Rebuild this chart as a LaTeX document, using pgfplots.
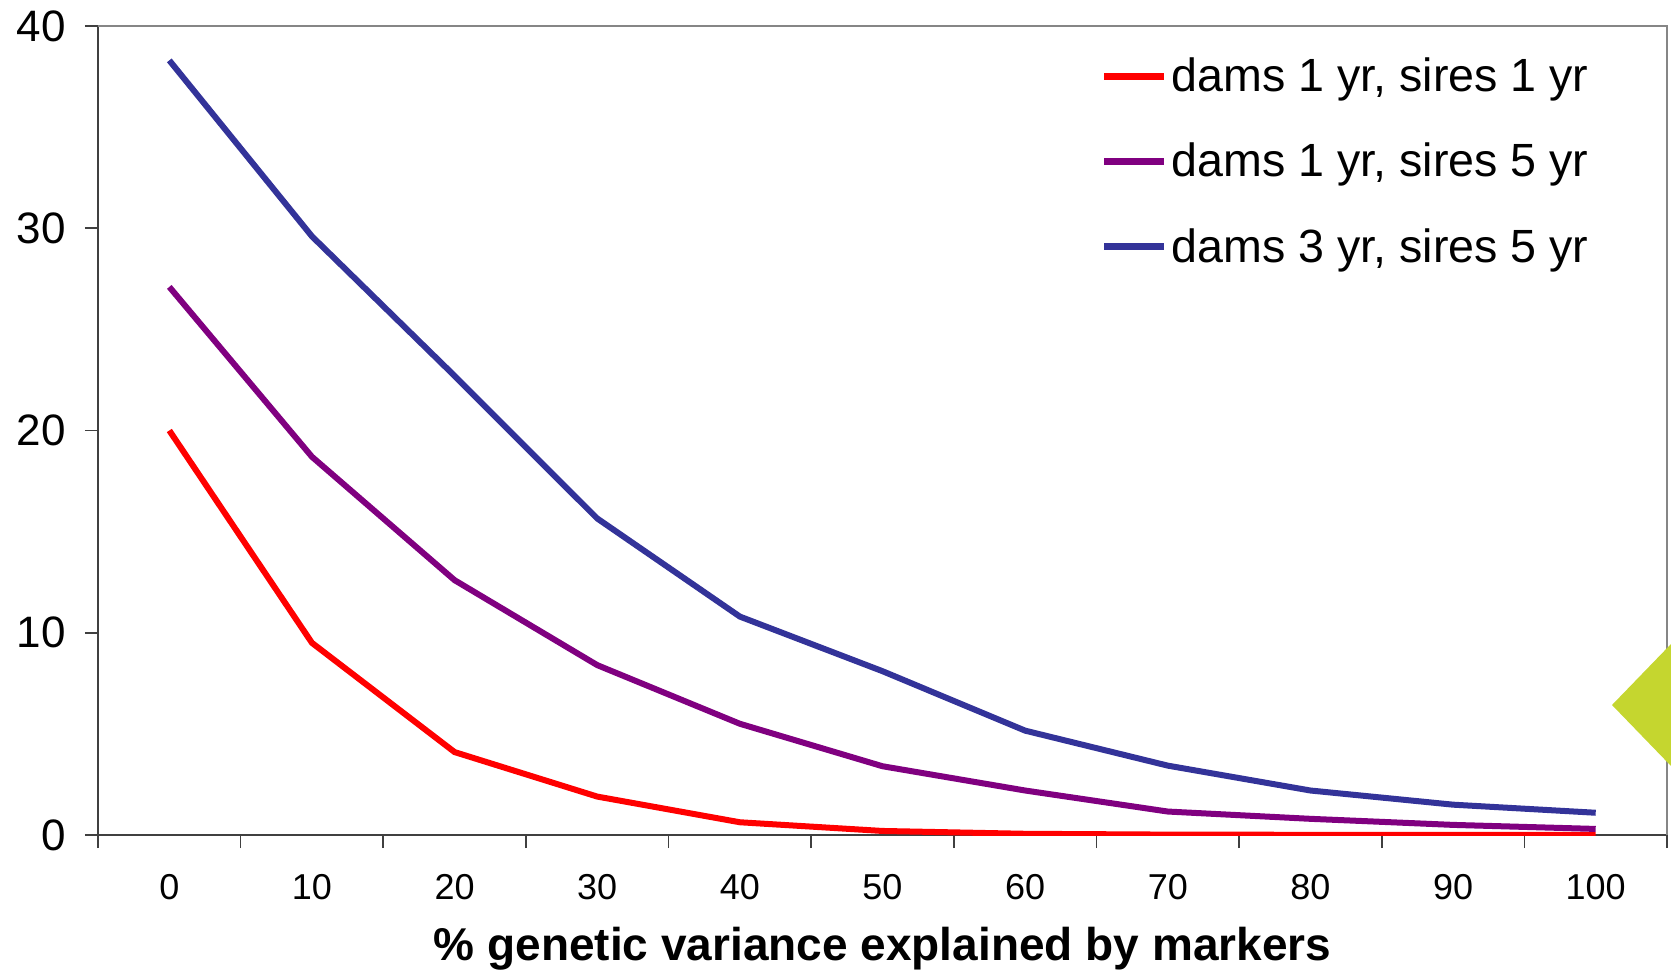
\documentclass[border=0pt]{standalone}
\usepackage{fontspec}
\setmainfont{Liberation Sans}
\usepackage{pgfplots}
\pgfplotsset{compat=1.18}
\definecolor{cred}{HTML}{FF0000}
\definecolor{cpurple}{HTML}{800080}
\definecolor{cblue}{HTML}{333399}
\definecolor{cgreen}{HTML}{C5D62F}
\definecolor{axdark}{HTML}{404040}
\definecolor{axgray}{HTML}{868686}
\begin{document}
\begin{tikzpicture}
\begin{axis}[
  at={(0,0)}, anchor=south west,
  scale only axis,
  width=784.5pt, height=404.5pt,
  xmin=-5, xmax=105, ymin=0, ymax=40,
  axis x line*=bottom, axis y line*=left,
  axis line style={axdark, line width=0.8pt},
  xtick={-5,5,...,105},
  x tick label as interval,
  xticklabels={0,10,20,30,40,50,60,70,80,90,100},
  ytick={0,10,20,30,40},
  tick align=outside,
  major tick length=6.5pt,
  tick style={axdark, line width=0.8pt},
  /pgf/number format/assume math mode=true,
  xticklabel style={font=\fontsize{18}{22}\selectfont, yshift=-9.6pt},
  yticklabel style={font=\fontsize{22}{26}\selectfont, xshift=-6pt},
  xlabel={\textbf{\% genetic variance explained by markers}},
  xlabel style={font=\fontsize{23}{27}\selectfont, yshift=-7pt},
  legend style={at={(0.639,0.966)}, anchor=north west, draw=none, fill=none,
    font=\fontsize{23.3}{27}\selectfont, row sep=20.2pt, inner sep=0pt},
  legend cell align=left,
  legend image code/.code={\draw[#1, line width=3.3pt] (0pt,0pt) -- (30pt,0pt);},
]
\addplot[cred, line width=3pt] coordinates {
 (0,20.0) (10,9.5) (20,4.1) (30,1.9) (40,0.63) (50,0.2) (60,0.06) (70,0.02) (80,0.01) (90,0.01) (100,0.0)};
\addlegendentry{dams 1 yr, sires 1 yr}
\addplot[cpurple, line width=3pt] coordinates {
 (0,27.1) (10,18.7) (20,12.6) (30,8.4) (40,5.5) (50,3.4) (60,2.2) (70,1.16) (80,0.8) (90,0.5) (100,0.3)};
\addlegendentry{dams 1 yr, sires 5 yr}
\addplot[cblue, line width=3pt] coordinates {
 (0,38.3) (10,29.6) (20,22.7) (30,15.65) (40,10.8) (50,8.1) (60,5.16) (70,3.43) (80,2.2) (90,1.5) (100,1.1)};
\addlegendentry{dams 3 yr, sires 5 yr}
\end{axis}
\draw[axgray, line width=0.8pt] (0pt,404.5pt) -- (784.5pt,404.5pt) -- (784.5pt,0pt);
\fill[cgreen] (757pt,65pt) -- (786.5pt,95.5pt) -- (786.5pt,34.5pt) -- cycle;
\pgfresetboundingbox
\path[use as bounding box] (-49pt,-67.5pt) rectangle (786.5pt,417.5pt);
\end{tikzpicture}
\end{document}
